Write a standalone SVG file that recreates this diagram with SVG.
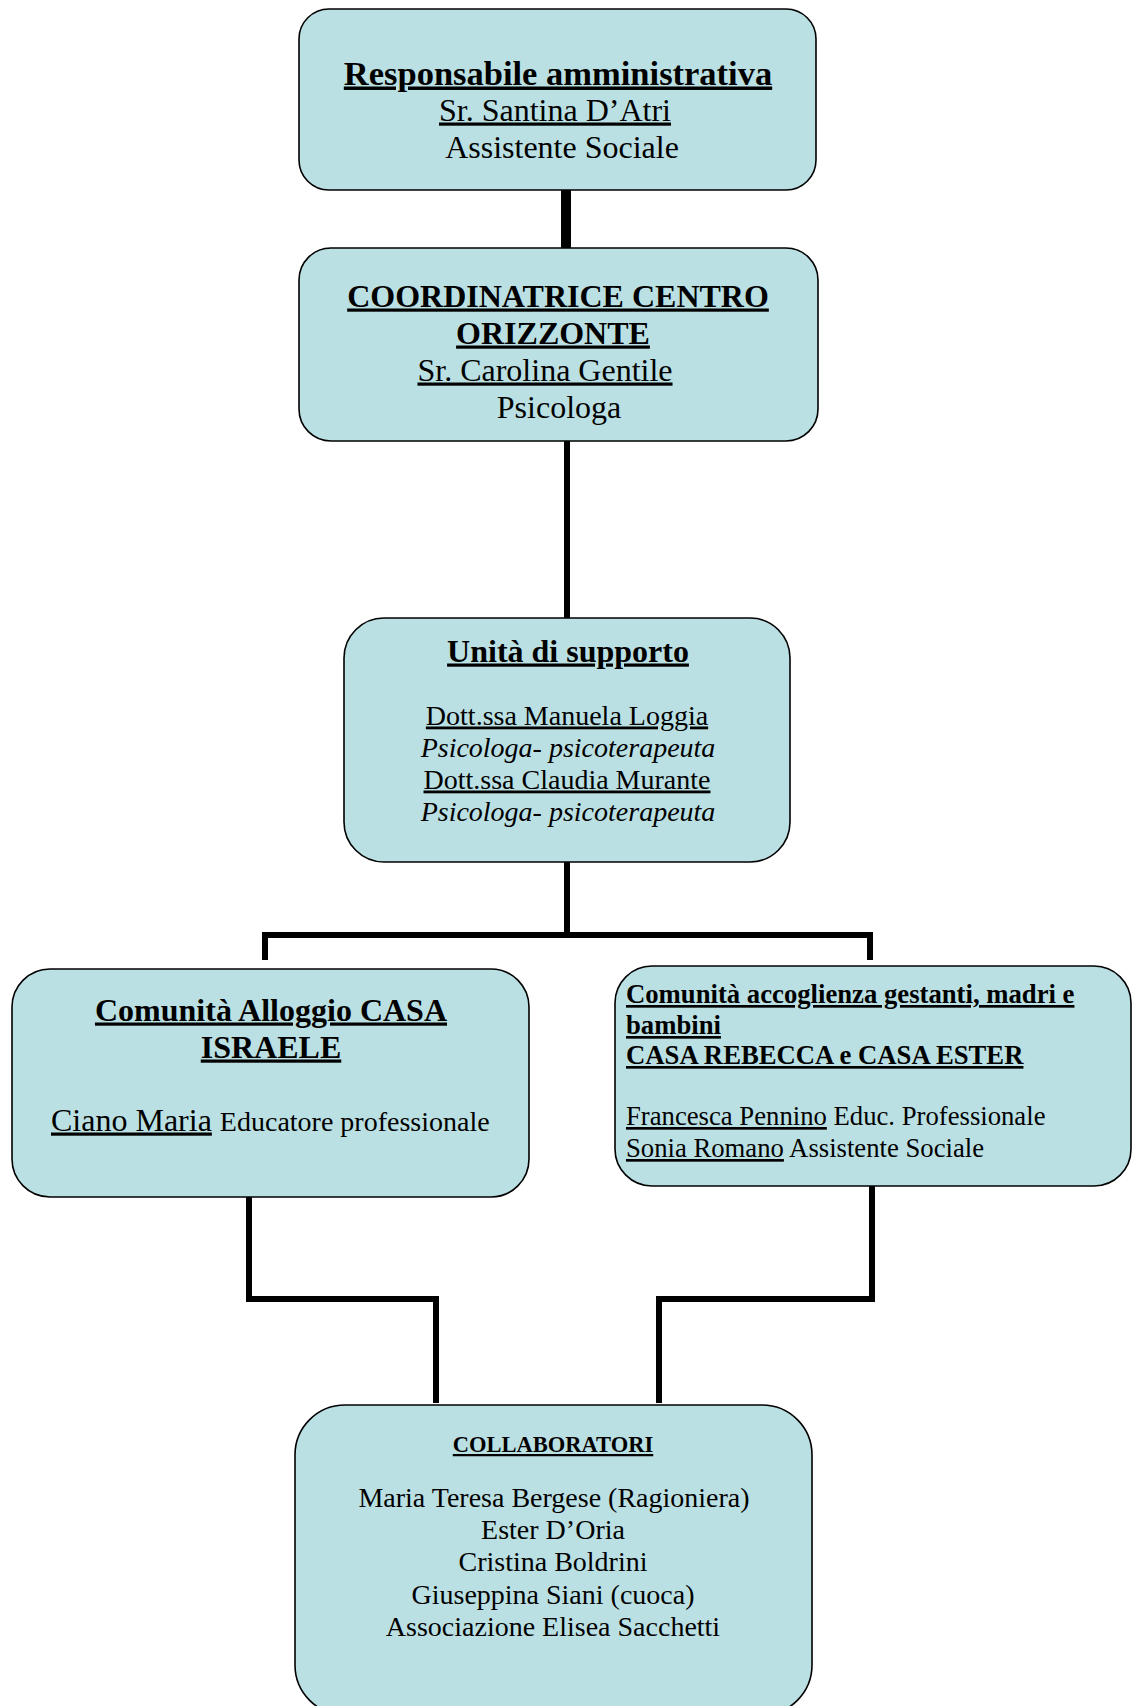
<svg xmlns="http://www.w3.org/2000/svg" width="1140" height="1706" viewBox="0 0 1140 1706">
<style>
.box{fill:#BBE0E3;stroke:#000;stroke-width:1.6}
text{font-family:"Liberation Serif","Times New Roman",serif;fill:#000}
.b{font-weight:bold}
.u{text-decoration:underline}
.i{font-style:italic}
.c{text-anchor:middle}
.con{fill:none;stroke:#000;stroke-width:6;stroke-linejoin:miter}
</style>
<rect width="1140" height="1706" fill="#fff"/>
<g id="connectors">
<path class="con" d="M566 190V248" style="stroke-width:10"/>
<path class="con" d="M567 441V618"/>
<path class="con" d="M567 862V935M265 960V935H870V960"/>
<path class="con" d="M249 1197V1299H436V1403"/>
<path class="con" d="M872 1186V1299H659V1403"/>
</g>
<g id="n1">
<rect class="box" x="299" y="9" width="517" height="181" rx="30"/>
<text class="b u c" x="558" y="84.5" font-size="34.5">Responsabile amministrativa</text>
<text class="u c" x="555" y="120.5" font-size="32">Sr. Santina D’Atri</text>
<text class="c" x="562" y="157.5" font-size="32">Assistente Sociale</text>
</g>
<g id="n2">
<rect class="box" x="299" y="248" width="519" height="193" rx="32"/>
<text class="b u c" x="558" y="306.5" font-size="32">COORDINATRICE CENTRO</text>
<text class="b u c" x="553" y="343.5" font-size="32">ORIZZONTE</text>
<text class="u c" x="545" y="380.5" font-size="32">Sr. Carolina Gentile</text>
<text class="c" x="559" y="417.5" font-size="32">Psicologa</text>
</g>
<g id="n3">
<rect class="box" x="344" y="618" width="446" height="244" rx="40"/>
<text class="b u c" x="568" y="661.5" font-size="32">Unità di supporto</text>
<text class="u c" x="567" y="724.5" font-size="28">Dott.ssa Manuela Loggia</text>
<text class="i c" x="568" y="756.5" font-size="28">Psicologa- psicoterapeuta</text>
<text class="u c" x="567" y="788.5" font-size="28">Dott.ssa Claudia Murante</text>
<text class="i c" x="568" y="820.5" font-size="28">Psicologa- psicoterapeuta</text>
</g>
<g id="n4">
<rect class="box" x="12" y="969" width="517" height="228" rx="38"/>
<text class="b u c" x="271" y="1020.5" font-size="32">Comunità Alloggio CASA</text>
<text class="b u c" x="271" y="1057.5" font-size="32">ISRAELE</text>
<text x="51" y="1130.5" font-size="32"><tspan class="u">Ciano Maria</tspan> <tspan font-size="28">Educatore professionale</tspan></text>
</g>
<g id="n5">
<rect class="box" x="615" y="966" width="516" height="220" rx="37"/>
<text class="b u" x="626" y="1003" font-size="26.7">Comunità accoglienza gestanti, madri e</text>
<text class="b u" x="626" y="1034" font-size="26.7">bambini</text>
<text class="b u" x="626" y="1064" font-size="26.7">CASA REBECCA e CASA ESTER</text>
<text x="626" y="1125" font-size="26.7"><tspan class="u">Francesca Pennino</tspan> Educ. Professionale</text>
<text x="626" y="1157" font-size="26.7"><tspan class="u">Sonia Romano</tspan> Assistente Sociale</text>
</g>
<g id="n6">
<rect class="box" x="295" y="1405" width="517" height="310" rx="50"/>
<text class="b u c" x="553" y="1452" font-size="22.5">COLLABORATORI</text>
<text class="c" x="554" y="1507" font-size="28">Maria Teresa Bergese (Ragioniera)</text>
<text class="c" x="553" y="1539" font-size="28">Ester D’Oria</text>
<text class="c" x="553" y="1571" font-size="28">Cristina Boldrini</text>
<text class="c" x="553" y="1604" font-size="28">Giuseppina Siani (cuoca)</text>
<text class="c" x="553" y="1636" font-size="28">Associazione Elisea Sacchetti</text>
</g>
</svg>
